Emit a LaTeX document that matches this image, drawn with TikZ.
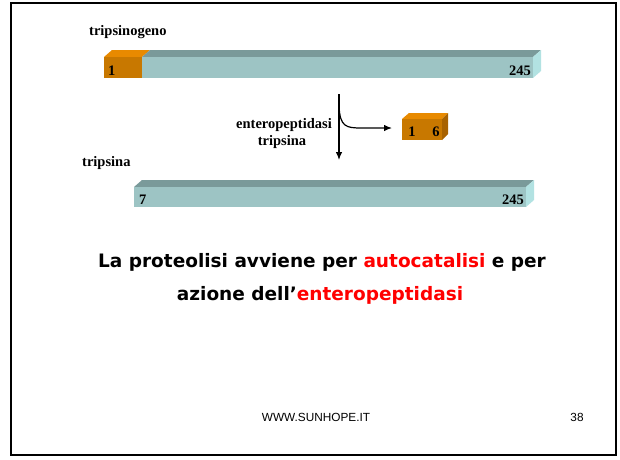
\documentclass[tikz,border=0pt]{standalone}
\usepackage{fontspec}
\usetikzlibrary{arrows.meta}
\setmainfont{Liberation Serif}
\newfontfamily\slidefont{DejaVu Sans}
\newfontfamily\footfont{Liberation Sans}
\definecolor{tealfr}{RGB}{157,196,196}
\definecolor{tealtop}{RGB}{122,154,154}
\definecolor{tealside}{RGB}{178,226,226}
\definecolor{arfr}{RGB}{200,120,0}
\definecolor{artop}{RGB}{232,138,0}
\definecolor{arside}{RGB}{168,98,0}
\definecolor{rosso}{RGB}{255,0,0}
\begin{document}
\begin{tikzpicture}[x=1pt,y=-1pt,
  lab/.style={font=\bfseries\fontsize{14.5}{16}\selectfont, inner sep=0pt},
  num/.style={font=\bfseries\fontsize{14.5}{16}\selectfont, inner sep=0pt},
  frase/.style={font=\slidefont\bfseries\fontsize{18.5}{22}\selectfont, inner sep=0pt},
  freccia/.style={line width=1.2pt, -{Latex[length=8pt,width=6.5pt]}}]
\useasboundingbox (0,0) rectangle (620,459);
\draw[line width=2.5pt] (11,3) rectangle (616,455);
% tripsinogeno
\fill[artop] (104,57) -- (112,50) -- (150,50) -- (142,57) -- cycle;
\fill[tealtop] (142,57) -- (150,50) -- (541,50) -- (533,57) -- cycle;
\fill[tealside] (533,57) -- (541,50) -- (541,71) -- (533,78) -- cycle;
\fill[arfr] (104,57) rectangle (142,78);
\fill[tealfr] (142,57) rectangle (533,78);
\node[lab, anchor=west] (ogeno) at (89,32) {tripsinogeno};
\node[num, anchor=west] (n1) at (108,71) {1};
\node[num, anchor=east] (n245a) at (531,71) {245};
% tripsina
\fill[tealtop] (134,187) -- (142,180) -- (534,180) -- (526,187) -- cycle;
\fill[tealside] (526,187) -- (534,180) -- (534,200) -- (526,207) -- cycle;
\fill[tealfr] (134,187) rectangle (526,207);
\node[lab, anchor=west] (sina) at (82,163) {tripsina};
\node[num, anchor=west] (n7) at (139,200) {7};
\node[num, anchor=east] (n245b) at (524,200) {245};
% frammento 1-6
\fill[artop] (402,119) -- (409,113) -- (448,113) -- (442,119) -- cycle;
\fill[arside] (442,119) -- (448,113) -- (448,134) -- (442,140) -- cycle;
\fill[arfr] (402,119) rectangle (442,140);
\node[num] (f1) at (412,132) {1};
\node[num] (f6) at (436,132) {6};
% frecce
\coordinate (su) at (339,94);
\coordinate (giu) at (339,160);
\coordinate (ramo) at (339,106);
\coordinate (punta) at (392,128);
\draw[freccia] (su) -- (giu);
\draw[freccia] (ramo) .. controls (340,127) and (346,128) .. (362,128) -- (punta);
\node[lab] (enz) at (284,125) {enteropeptidasi};
\node[lab] (trip) at (282,142) {tripsina};
% testo
\node[frase] (riga1) at (322,262) {La proteolisi avviene per \textcolor{rosso}{autocatalisi} e per};
\node[frase] (riga2) at (320,295) {azione dell’\textcolor{rosso}{enteropeptidasi}};
\node[font=\footfont\fontsize{11.8}{14}\selectfont] (sito) at (316,417) {WWW.SUNHOPE.IT};
\node[font=\footfont\fontsize{11.8}{14}\selectfont] (pag) at (577,417) {38};
\end{tikzpicture}
\end{document}
